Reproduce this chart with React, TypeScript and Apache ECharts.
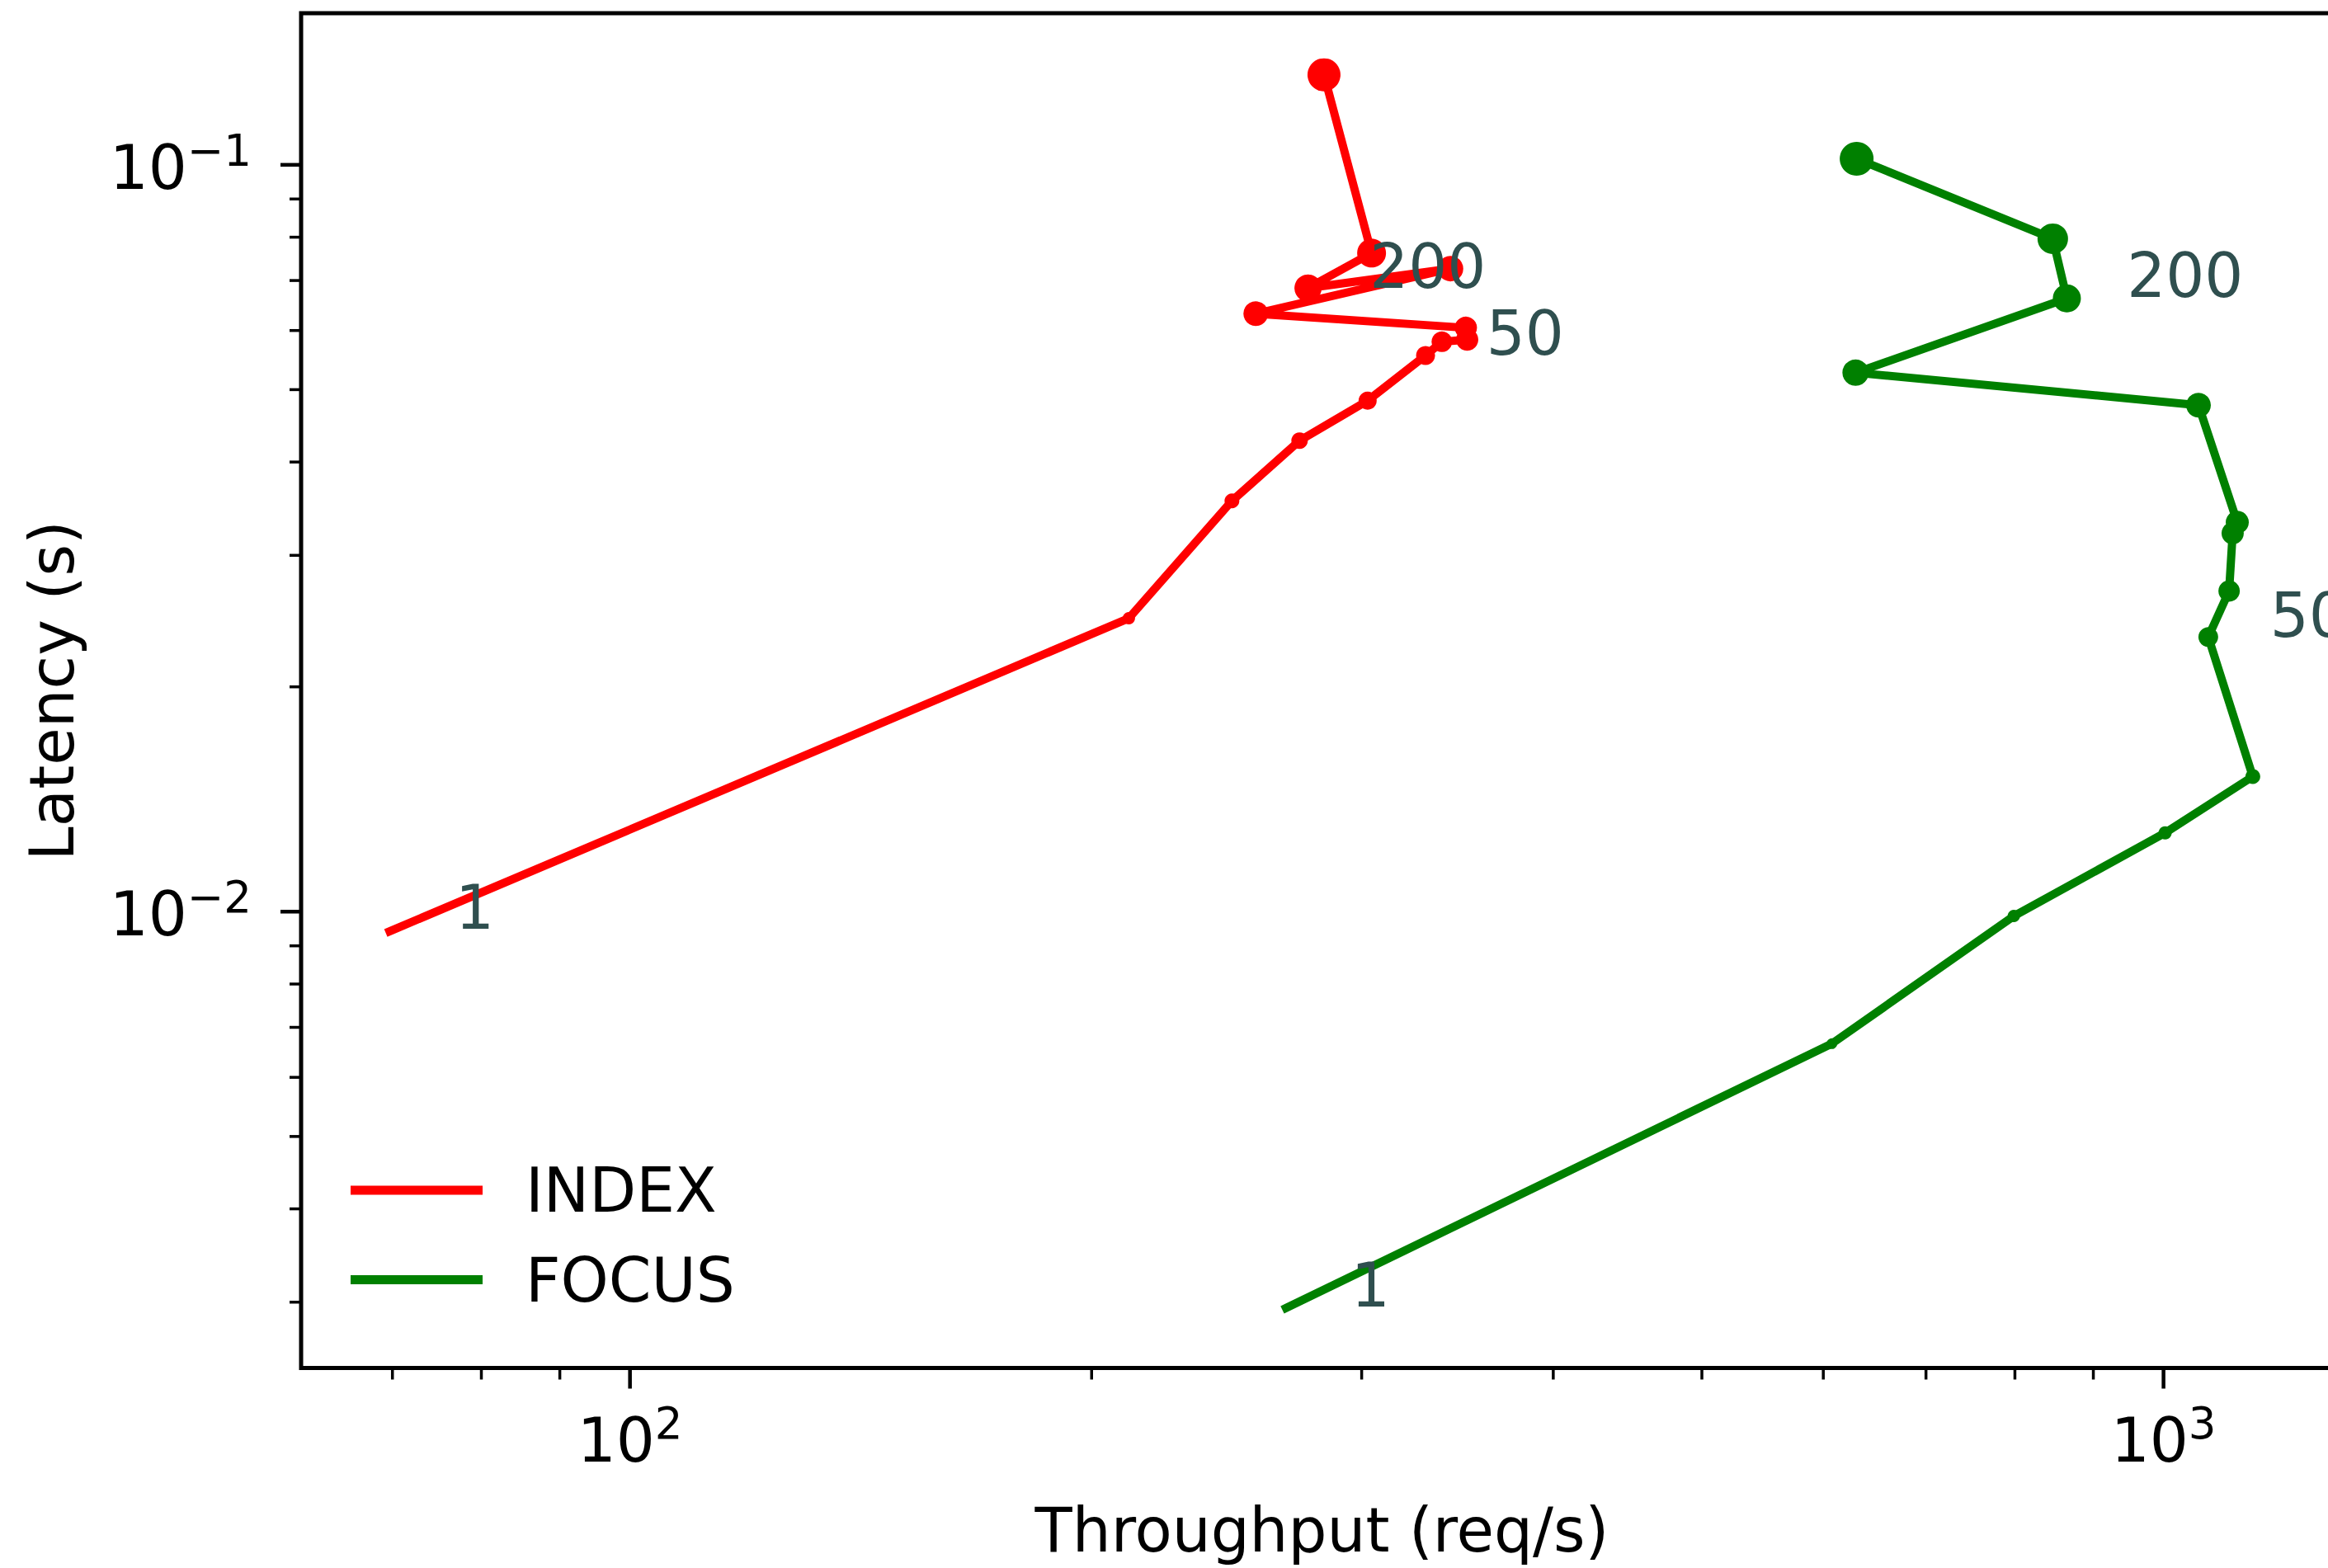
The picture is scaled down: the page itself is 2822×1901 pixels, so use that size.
import React, { useEffect, useRef } from 'react';
import * as echarts from 'echarts';

// ---------------- data ----------------
const INDEX_THROUGHPUT = [69.7, 211.5, 246.9, 273.3, 302.7, 330.2, 338.4, 351.5, 350.8, 255.9, 342.8, 276.8, 304.5, 283.5];
const INDEX_LATENCY = [0.00941, 0.02471, 0.03548, 0.04272, 0.04833, 0.05555, 0.05795, 0.05834, 0.06051, 0.06319, 0.07261, 0.06839, 0.07617, 0.132];

const FOCUS_THROUGHPUT = [267.8, 607.8, 798.7, 1002.4, 1143.5, 1069.5, 1103.5, 1109.4, 1117.1, 1053.9, 629.8, 864.9, 846.8, 630.8];
const FOCUS_LATENCY = [0.002946, 0.006657, 0.009865, 0.01275, 0.01517, 0.02332, 0.02688, 0.03211, 0.03322, 0.04767, 0.05268, 0.06626, 0.07963, 0.1019];

// concurrency annotations
const INDEX_NOTE_TEXT = ['1', '50', '200'];
const INDEX_NOTE_X = [76.9, 361.5, 303.4];
const INDEX_NOTE_Y = [0.010137, 0.0595, 0.07311];
const FOCUS_NOTE_TEXT = ['1', '200', '50'];
const FOCUS_NOTE_X = [295.1, 945.8, 1172.6];
const FOCUS_NOTE_Y = [0.003162, 0.07108, 0.02493];

// axes
const X_MIN = 61.03;
const X_MAX = 1309;
const Y_MIN = 0.002449;
const Y_MAX = 0.1596;
const X_MAJOR_TICKS = [100, 1000];
const X_TICK_EXP = ['2', '3'];
const X_MINOR_TICKS = [70, 80, 90, 200, 300, 400, 500, 600, 700, 800, 900];
const Y_MAJOR_TICKS = [0.01, 0.1];
const Y_TICK_EXP = ['\u22122', '\u22121'];
const Y_MINOR_TICKS = [0.003, 0.004, 0.005, 0.006, 0.007, 0.008, 0.009, 0.02, 0.03, 0.04, 0.05, 0.06, 0.07, 0.08, 0.09];
const TICK_BASE = '10';

// ---------------- styles ----------------
const FONT = 'DejaVu Sans';
const RED = '#ff0000';
const GREEN = '#008000';
const NOTE_COLOR = '#2f4f4f';
const INDEX_MARKER = [6, 15, 18, 20, 22, 23, 25, 27, 27, 30, 31, 33, 35, 40];
const FOCUS_MARKER = [6, 13, 15, 16, 18, 24, 26, 27, 28, 30, 32, 34, 37, 41];

const RICH = {
  b: { fontSize: 74, lineHeight: 94, fontFamily: FONT, fill: '#000', color: '#000' },
  s: { fontSize: 53, lineHeight: 53, fontFamily: FONT, fill: '#000', color: '#000', verticalAlign: 'top' },
};

function tickSeries(values: number[], axis: 'x' | 'y', major: boolean, exps?: string[]) {
  return {
    type: 'custom',
    silent: true,
    z: 5,
    clip: false,
    data: values.map((v) => (axis === 'x' ? [v, Y_MIN] : [X_MIN, v])),
    renderItem: (params: any, api: any) => {
      const p = api.coord([api.value(0), api.value(1)]);
      const len = major ? 25 : 14;
      const lw = major ? 4.5 : 3.5;
      const children: any[] = [];
      if (axis === 'x') {
        children.push({
          type: 'line',
          shape: { x1: p[0], y1: p[1], x2: p[0], y2: p[1] + len },
          style: { stroke: '#000', lineWidth: lw },
        });
        if (major && exps) {
          children.push({
            type: 'text',
            x: p[0],
            y: p[1] + 40,
            style: {
              text: `{b|${TICK_BASE}}{s|${exps[params.dataIndex]}}`,
              rich: RICH,
              align: 'center',
              verticalAlign: 'top',
              fill: '#000',
              fontFamily: FONT,
              fontSize: 74,
            },
          });
        }
      } else {
        children.push({
          type: 'line',
          shape: { x1: p[0] - len, y1: p[1], x2: p[0], y2: p[1] },
          style: { stroke: '#000', lineWidth: lw },
        });
        if (major && exps) {
          children.push({
            type: 'text',
            x: p[0] - 60,
            y: p[1] - 44,
            style: {
              text: `{b|${TICK_BASE}}{s|${exps[params.dataIndex]}}`,
              rich: RICH,
              align: 'right',
              verticalAlign: 'top',
              fill: '#000',
              fontFamily: FONT,
              fontSize: 74,
            },
          });
        }
      }
      return { type: 'group', children };
    },
  };
}

function lineSeries(name: string, xs: number[], ys: number[], color: string, sizes: number[]) {
  return {
    name,
    type: 'line',
    data: xs.map((x, i) => [x, ys[i]]),
    symbol: 'circle',
    symbolSize: (_v: any, p: any) => sizes[p.dataIndex],
    showSymbol: true,
    showAllSymbol: true,
    color,
    lineStyle: { width: 10, color, cap: 'square', join: 'round' },
    itemStyle: { color, borderWidth: 0, opacity: 1 },
    clip: true,
    z: 3,
    silent: true,
  };
}

function noteSeries(texts: string[], xs: number[], ys: number[]) {
  return {
    type: 'scatter',
    silent: true,
    z: 6,
    symbolSize: 1,
    itemStyle: { color: 'rgba(0,0,0,0)', opacity: 1 },
    data: texts.map((t, i) => ({ name: t, value: [xs[i], ys[i]] })),
    label: {
      show: true,
      position: 'right',
      distance: 0,
      formatter: '{b}',
      fontSize: 74,
      fontFamily: FONT,
      color: NOTE_COLOR,
      opacity: 1,
    },
  };
}

export default function App() {
  const ref = useRef<HTMLDivElement>(null);
  useEffect(() => {
    const el = ref.current;
    if (!el) return;
    const chart = echarts.init(el, undefined, { renderer: 'svg', width: 2822, height: 1901 });
    chart.setOption({
      animation: false,
      backgroundColor: '#ffffff',
      textStyle: { fontFamily: FONT },
      grid: {
        left: 365,
        top: 16,
        width: 2475,
        height: 1642.5,
        show: true,
        borderColor: '#000',
        borderWidth: 5,
        backgroundColor: 'transparent',
        containLabel: false,
        outerBoundsMode: 'none',
      },
      xAxis: {
        type: 'log',
        min: X_MIN,
        max: X_MAX,
        axisLine: { show: false },
        axisTick: { show: false },
        axisLabel: { show: false },
        splitLine: { show: false },
        minorTick: { show: false },
        name: 'Throughput (req/s)',
        nameLocation: 'middle',
        nameGap: 159,
        nameTextStyle: { fontSize: 74, lineHeight: 74, fontFamily: FONT, color: '#000' },
      },
      yAxis: {
        type: 'log',
        min: Y_MIN,
        max: Y_MAX,
        axisLine: { show: false },
        axisTick: { show: false },
        axisLabel: { show: false },
        splitLine: { show: false },
        minorTick: { show: false },
        name: 'Latency (s)',
        nameLocation: 'middle',
        nameGap: 265,
        nameTextStyle: { fontSize: 74, lineHeight: 74, fontFamily: FONT, color: '#000' },
      },
      legend: {
        data: ['INDEX', 'FOCUS'],
        orient: 'vertical',
        left: 425,
        top: 1406,
        padding: 0,
        itemWidth: 160,
        itemHeight: 11,
        itemGap: 34.5,
        icon: 'rect',
        selectedMode: false,
        textStyle: { fontSize: 74, lineHeight: 74, fontFamily: FONT, color: '#000', padding: [0, 0, 0, 47] },
      },
      series: [
        lineSeries('INDEX', INDEX_THROUGHPUT, INDEX_LATENCY, RED, INDEX_MARKER),
        lineSeries('FOCUS', FOCUS_THROUGHPUT, FOCUS_LATENCY, GREEN, FOCUS_MARKER),
        noteSeries(INDEX_NOTE_TEXT, INDEX_NOTE_X, INDEX_NOTE_Y),
        noteSeries(FOCUS_NOTE_TEXT, FOCUS_NOTE_X, FOCUS_NOTE_Y),
        tickSeries(X_MAJOR_TICKS, 'x', true, X_TICK_EXP),
        tickSeries(X_MINOR_TICKS, 'x', false),
        tickSeries(Y_MAJOR_TICKS, 'y', true, Y_TICK_EXP),
        tickSeries(Y_MINOR_TICKS, 'y', false),
      ],
    });
    return () => chart.dispose();
  }, []);
  return (
    <div
      ref={ref}
      style={{ position: 'fixed', left: 0, top: 0, width: 2822, height: 1901, background: '#fff' }}
    />
  );
}
